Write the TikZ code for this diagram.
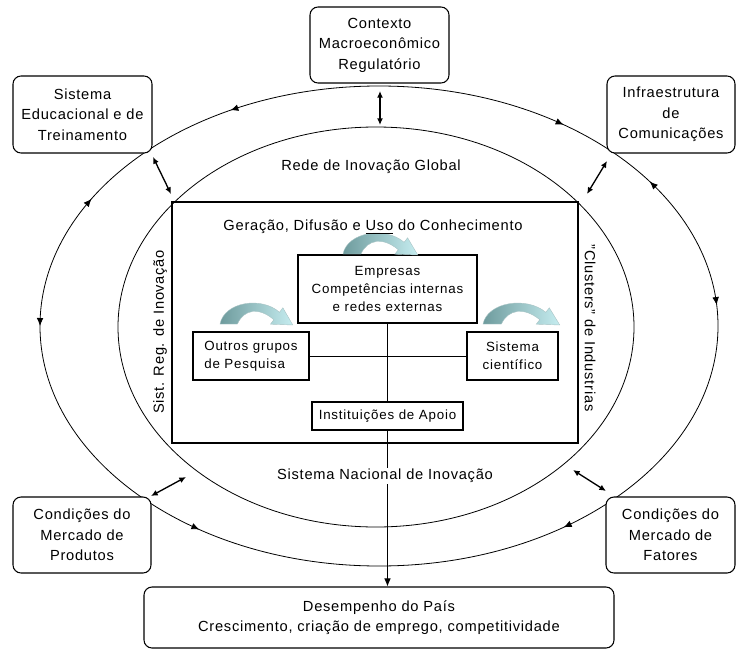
\documentclass[tikz,border=0pt]{standalone}
\usepackage{fontspec}
\setmainfont{Liberation Sans}[LetterSpace=5]
\newfontfamily\innerfont{Liberation Sans}[LetterSpace=6]
\usetikzlibrary{arrows.meta}
\definecolor{tealdark}{HTML}{6E9B9D}
\definecolor{teallight}{HTML}{C6EDF0}

\begin{document}
\begin{tikzpicture}[x=0.75pt,y=-0.75pt]
\tikzstyle{outerbox} = [rectangle, rounded corners=6pt, draw=black, line width=0.8pt, fill=white, text centered, align=center, inner sep=0pt, font=\fontsize{11}{15.4}\selectfont]

\tikzstyle{innerbox} = [rectangle, draw=black, line width=0.8pt, fill=white, text centered, align=center, inner sep=0pt, font=\innerfont\fontsize{10}{13.5}\selectfont]
\tikzstyle{caption} = [font=\fontsize{11}{14}\selectfont, inner sep=1pt]
\tikzstyle{ring} = [line width=0.6pt]
\tikzstyle{ringtip} = [-{Latex[length=6pt,width=5pt]}, line width=0.6pt]
\tikzstyle{dblarrow} = [{Latex[length=5pt,width=4.5pt]}-{Latex[length=5pt,width=4.5pt]}, line width=1pt]
\tikzstyle{arrow} = [-{Latex[length=6pt,width=5pt]}, line width=0.7pt]
\tikzstyle{curved} = [left color=tealdark, right color=teallight, draw=tealdark!60, line width=0.3pt]

\useasboundingbox (0,0) rectangle (736,650);

% the two rings
\coordinate (outc) at (379,326);
\coordinate (innc) at (376,327);
\draw[ring] (outc) ellipse [x radius=339, y radius=240];
\draw[ring] (innc) ellipse [x radius=258, y radius=200];

\foreach \a/\d in {-116/1, -148/-1, 180/1, 122/1, 57/-1, -5/-1, -37/1, -57/-1} {
  \pgfmathsetmacro{\b}{\a+\d}
  \path (outc) ++(\b:339 and 240) coordinate (p1);
  \path (outc) ++(\a:339 and 240) coordinate (p2);
  \draw[ringtip] (p1) -- (p2);
}

\draw[line width=0.8pt] (172,202) rectangle (578,443);

\node (ctx) [outerbox, minimum width=104.25pt, minimum height=57pt] at (379.5,45) {Contexto\\Macroeconômico\\Regulatório};
\node (edu) [outerbox, minimum width=104.25pt, minimum height=57.75pt] at (82.5,114.5) {Sistema\\Educacional e de\\Treinamento};
\node (infra) [outerbox, minimum width=96pt, minimum height=57.75pt] at (671,114.5) {Infraestrutura\\de\\Comunicações};
\node (prod) [outerbox, minimum width=103.5pt, minimum height=57pt] at (82,535) {Condições do\\Mercado de\\Produtos};
\node (fat) [outerbox, minimum width=96.75pt, minimum height=57pt] at (670.5,535) {Condições do\\Mercado de\\Fatores};
\node (desemp) [outerbox, minimum width=352.5pt, minimum height=45.75pt] at (379,617.5) {Desempenho do País\\Crescimento, criação de emprego, competitividade};

\node (emp) [innerbox, minimum width=134.25pt, minimum height=51pt] at (387.5,289) {Empresas\\Competências internas\\e redes externas};
\node (outros) [innerbox, align=left, minimum width=87pt, minimum height=36pt] at (251,356) {Outros grupos\\de Pesquisa};
\node (cient) [innerbox, minimum width=68.25pt, minimum height=36pt] at (512.5,356) {Sistema\\científico};
\node (inst) [innerbox, minimum width=113.25pt, minimum height=21pt] at (387.5,416) {Instituições de Apoio};

\node (rede) [caption] at (371,167) {Rede de Inovação Global};
\node (reg) [caption, rotate=90] at (160,332) {Sist. Reg. de Inovação};
\node (clusters) [caption, rotate=-90] at (590,328) {"Clusters" de Industrias};

% curved arrows
\foreach \bx/\by/\bw in {343/254/75, 220/324/73, 483/324/77} {
  \begin{scope}[shift={(\bx,\by)}, xscale=\bw/67]
    \path[curved] (0,0) .. controls (4,-22) and (38,-28) .. (54.6,-11.7) -- (57.7,-16.2) -- (66.8,1) -- (46.3,0.2) -- (49.4,-4.3) .. controls (36,-17) and (22,-15) .. (16,0) -- cycle;
  \end{scope}
}

\node (geracao) [caption] at (373,227) {Geração, Difusão e \underline{Uso} do Conhecimento};

\draw[line width=0.7pt] (emp) -- (inst);
\draw[line width=0.7pt] (outros) -- (cient);
\draw[arrow] (inst.south) -- (inst.south |- desemp.north);

\node (sni) [caption, fill=white] at (385,476) {Sistema Nacional de Inovação};

% links between the rings
\coordinate (c1) at (380,91);   \coordinate (c2) at (380,125);
\coordinate (e1) at (153,157);  \coordinate (e2) at (171,194);
\coordinate (i1) at (607,161);  \coordinate (i2) at (587,194);
\coordinate (p1) at (151,496);  \coordinate (p2) at (186,477);
\coordinate (f1) at (573,470);  \coordinate (f2) at (606,491);
\draw[dblarrow] (c1) -- (c2);
\draw[dblarrow] (e1) -- (e2);
\draw[dblarrow] (i1) -- (i2);
\draw[dblarrow] (p1) -- (p2);
\draw[dblarrow] (f1) -- (f2);

\end{tikzpicture}
\end{document}
